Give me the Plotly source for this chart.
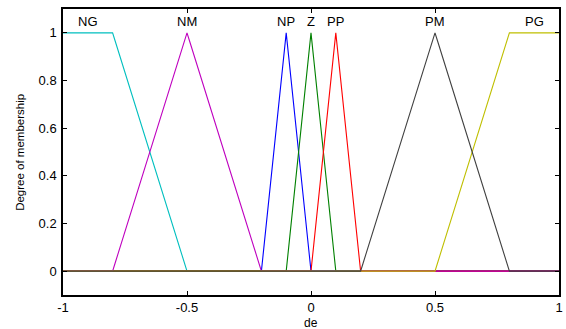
import numpy as np
import plotly.graph_objects as go

# Universe of discourse for the input "de"
x_range = [-1.0, 1.0]

# Membership function definitions: (name, type, parameters, colour)
mf_names = ["NG", "NP", "Z", "PP", "NM", "PG", "PM"]
mf_types = ["trapmf", "trimf", "trimf", "trimf", "trimf", "trapmf", "trimf"]
mf_params = [
    [-1.0, -1.0, -0.8, -0.5],
    [-0.2, -0.1, 0.0],
    [-0.1, 0.0, 0.1],
    [0.0, 0.1, 0.2],
    [-0.8, -0.5, -0.2],
    [0.5, 0.8, 1.0, 1.0],
    [0.2, 0.5, 0.8],
]
mf_colors = ["#00bfbf", "#0000ff", "#008000", "#ff0000", "#bf00bf", "#bfbf00", "#404040"]

# Label positions (centre of each membership function's peak)
label_x = [-0.9, -0.1, 0.0, 0.1, -0.5, 0.9, 0.5]
label_y = 1.047

FONT = "Liberation Sans, Arial"


def membership(xs, kind, p):
    if kind == "trimf":
        a, b, c = p
        p = [a, b, b, c]
    a, b, c, d = p
    y = np.zeros_like(xs)
    for i, v in enumerate(xs):
        if v < a or v > d:
            y[i] = 0.0
        elif b <= v <= c:
            y[i] = 1.0
        elif v < b:
            y[i] = (v - a) / (b - a) if b > a else 1.0
        else:
            y[i] = (d - v) / (d - c) if d > c else 1.0
    return y


xs = np.round(np.linspace(x_range[0], x_range[1], 201), 6)

fig = go.Figure()
for name, kind, p, col in zip(mf_names, mf_types, mf_params, mf_colors):
    fig.add_trace(go.Scatter(
        x=xs, y=membership(xs, kind, p), mode="lines",
        line=dict(color=col, width=1.1), name=name, showlegend=False,
        hoverinfo="skip",
    ))

for name, lx in zip(mf_names, label_x):
    fig.add_annotation(x=lx, y=label_y, text=name, showarrow=False,
                       font=dict(family=FONT, size=13, color="black"),
                       yanchor="middle", xanchor="center")

# Axis titles
fig.add_annotation(xref="paper", yref="paper", x=0.5, y=-0.098, text="de",
                   showarrow=False, xanchor="center", yanchor="middle",
                   font=dict(family=FONT, size=12, color="black"))
fig.add_annotation(xref="paper", yref="paper", x=-0.087, y=0.5,
                   text="Degree of membership", textangle=-90,
                   showarrow=False, xanchor="center", yanchor="middle",
                   font=dict(family=FONT, size=11.5, color="black"))

axis_common = dict(
    showline=True, linecolor="black", linewidth=1.5, mirror="allticks",
    ticks="inside", ticklen=4, tickcolor="black", tickwidth=1,
    showgrid=False, zeroline=False, automargin=False,
    tickfont=dict(family=FONT, size=13, color="black"),
)

fig.update_xaxes(range=[-1, 1], tickvals=[-1, -0.5, 0, 0.5, 1],
                 ticktext=["-1", "-0.5", "0", "0.5", "1"], **axis_common)
fig.update_yaxes(range=[-0.1, 1.1], tickvals=[0, 0.2, 0.4, 0.6, 0.8, 1],
                 ticktext=["0", "0.2", "0.4", "0.6", "0.8", "1"],
                 ticklabelstandoff=2, **axis_common)

fig.update_layout(
    width=566, height=329,
    margin=dict(l=63, r=7, t=9, b=34),
    paper_bgcolor="white", plot_bgcolor="white",
)

fig.write_html("out.html")
